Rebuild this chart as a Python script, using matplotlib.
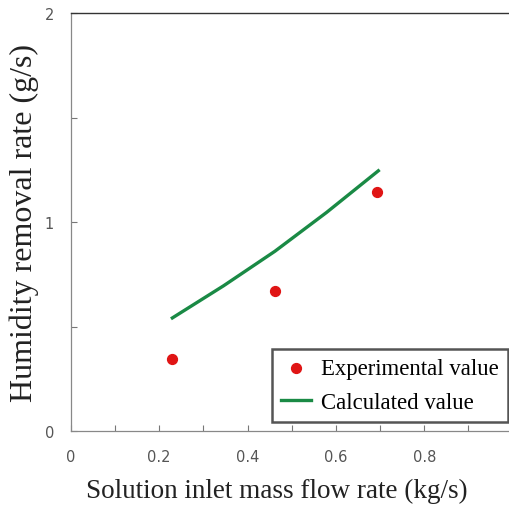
import matplotlib
matplotlib.use("Agg")
import matplotlib.pyplot as plt
from matplotlib.ticker import MultipleLocator

exp_x = [0.23, 0.462, 0.694]
exp_y = [0.344, 0.67, 1.143]
calc_x = [0.230, 0.346, 0.462, 0.579, 0.696]
calc_y = [0.541, 0.695, 0.860, 1.046, 1.245]
x_ticks = [0, 0.2, 0.4, 0.6, 0.8, 1.0]
x_tick_labels = ["0", "0.2", "0.4", "0.6", "0.8", "1"]
y_ticks = [0, 1, 2]
y_tick_labels = ["0", "1", "2"]

fig = plt.figure(figsize=(5.10, 5.06), dpi=100)
ax = fig.add_axes([70.7/510, 1-432/506, 442/510, 418/506])

ax.plot(calc_x, calc_y, color="#1a8a45", lw=2.4, label="Calculated value", zorder=2)
ax.scatter(exp_x, exp_y, s=50, color="#e01515", label="Experimental value", zorder=3)

ax.set_xlim(0, 1)
ax.set_ylim(0, 2)
ax.set_xticks(x_ticks)
ax.set_xticklabels(x_tick_labels)
ax.set_yticks(y_ticks)
ax.set_yticklabels(y_tick_labels)
ax.xaxis.set_minor_locator(MultipleLocator(0.1))
ax.yaxis.set_minor_locator(MultipleLocator(0.5))
ax.tick_params(axis="both", which="both", direction="in", length=4, width=0.8,
               color="#777777", labelsize=10.5, labelcolor="#555555")
ax.tick_params(axis="x", pad=13)
ax.tick_params(axis="y", pad=12)

for s in ["left", "bottom"]:
    ax.spines[s].set_color("#888888")
    ax.spines[s].set_linewidth(0.9)
ax.spines["top"].set_color("#333333")
ax.spines["top"].set_linewidth(1.0)
ax.spines["right"].set_visible(False)

ax.set_xlabel("Solution inlet mass flow rate (kg/s)", family="Liberation Serif",
              fontsize=19.5, color="#222222", labelpad=10)
ax.xaxis.label.set_x((277 - 70.7) / 442)
ax.set_ylabel("Humidity removal rate (g/s)", family="Liberation Serif",
              fontsize=23, color="#222222", labelpad=4)

handles, labels = ax.get_legend_handles_labels()
order = [1, 0]
leg = ax.legend([handles[i] for i in order], [labels[i] for i in order],
                loc="lower right", bbox_to_anchor=((508-70.7)/442, 9/418),
                borderaxespad=0,
                prop={"family": "Liberation Serif", "size": 16.4},
                fancybox=False, framealpha=1, edgecolor="#555555",
                borderpad=0.4, labelspacing=0.55, handlelength=1.3,
                handletextpad=0.45)
leg.get_frame().set_linewidth(1.8)

fig.savefig("out.png", dpi=100)
